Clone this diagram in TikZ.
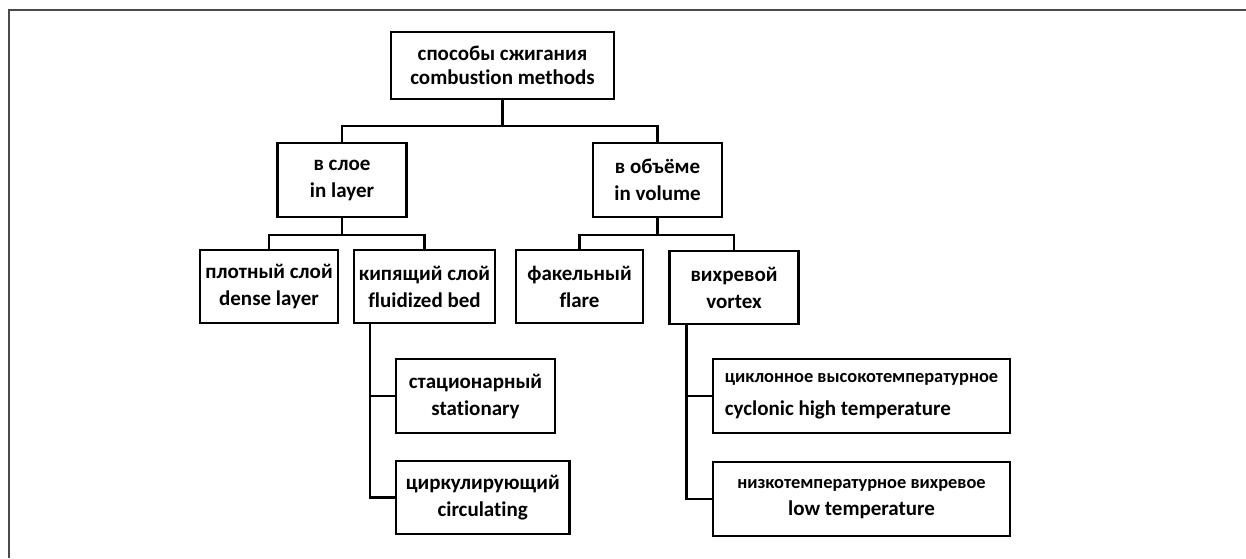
\documentclass[tikz,border=0pt]{standalone}
\usepackage{fontspec}
\setmainfont{Carlito}[Ligatures={NoCommon}]
\usetikzlibrary{positioning}
\definecolor{cFrame}{HTML}{4A4A4A}
\newcommand{\smalltxt}[1]{{\fontsize{9.2}{11}\selectfont #1}}

\begin{document}
\begin{tikzpicture}[
    x=0.5pt, y=-0.5pt,
    % ---------------------------------------------------------
    % СТИЛИ
    % ---------------------------------------------------------
    method box/.style={
        draw=black,
        line width=1.35pt,
        fill=white,
        align=center,
        inner sep=2pt,
        font=\fontsize{10.5}{13.5}\selectfont\bfseries
    },
    tree line/.style={
        draw=black,
        line width=1.15pt
    }
]
\useasboundingbox (0,0) rectangle (1246,558);

% ---------------------------------------------------------
% 0. РАМКА
% ---------------------------------------------------------
\draw[cFrame, line width=1pt] (9,558) -- (9,10) -- (1246,10);

% ---------------------------------------------------------
% 1. КООРДИНАТЫ (центры блоков)
% ---------------------------------------------------------
\coordinate (cRoot) at (502.5, 65.5);
% второй уровень
\coordinate (cLayer) at (342, 180);
\coordinate (cVolume) at (657.5, 180);
% третий уровень
\coordinate (cDense) at (269, 286.5);
\coordinate (cFluid) at (424.5, 286.5);
\coordinate (cFlare) at (579.5, 286.5);
\coordinate (cVortex) at (734, 287.5);
% четвёртый уровень
\coordinate (cStat) at (475.5, 396);
\coordinate (cCirc) at (482.7, 497.5);
\coordinate (cCyclo) at (861.5, 396);
\coordinate (cLowT) at (861.5, 499);
% уровни горизонтальных шин
\coordinate (bar0) at (0, 126);
\coordinate (bar1) at (0, 235);

% ---------------------------------------------------------
% 2. БЛОКИ
% ---------------------------------------------------------
\node[method box, minimum width=111.5pt, minimum height=33.5pt,
      font=\fontsize{10.5}{12}\selectfont\bfseries] (root) at (cRoot)
      {способы сжигания\\combustion methods};

\node[method box, minimum width=64.25pt, minimum height=37pt] (layer) at (cLayer) {в слое\\in layer};
\node[method box, minimum width=64.5pt, minimum height=37pt] (volume) at (cVolume) {в объёме\\in volume};

\node[method box, minimum width=69pt, minimum height=36.5pt] (dense) at (cDense) {плотный слой\\dense layer};
\node[method box, minimum width=70.5pt, minimum height=36.5pt] (fluid) at (cFluid) {кипящий слой\\fluidized bed};
\node[method box, minimum width=63.5pt, minimum height=36.5pt] (flare) at (cFlare) {факельный\\flare};
\node[method box, minimum width=64.25pt, minimum height=36.5pt] (vortex) at (cVortex) {вихревой\\vortex};

\node[method box, minimum width=79.5pt, minimum height=37pt] (stat) at (cStat) {стационарный\\stationary};
\node[method box, minimum width=86.75pt, minimum height=36.5pt] (circ) at (cCirc) {циркулирующий\\circulating};

\node[method box, align=left, minimum width=148.5pt, minimum height=37pt] (cyclo) at (cCyclo)
      {\smalltxt{циклонное высокотемпературное}\\[3pt]cyclonic high temperature};
\node[method box, minimum width=148.5pt, minimum height=37pt] (lowT) at (cLowT)
      {\smalltxt{низкотемпературное вихревое}\\low temperature};

% ---------------------------------------------------------
% 3. СОЕДИНИТЕЛЬНЫЕ ЛИНИИ
% ---------------------------------------------------------
\draw[tree line] (root.south) -- (root.south |- bar0) -| (layer.north);
\draw[tree line] (root.south |- bar0) -| (volume.north);

\draw[tree line] (layer.south) -- (layer.south |- bar1) -| (dense.north);
\draw[tree line] (layer.south |- bar1) -| (fluid.north);
\draw[tree line] (volume.south) -- (volume.south |- bar1) -| (flare.north);
\draw[tree line] (volume.south |- bar1) -| (vortex.north);

% боковые отводы
\draw[tree line] ([xshift=8.5pt]fluid.south west) |- (stat.west);
\draw[tree line] ([xshift=8.5pt]fluid.south west) |- (circ.west);
\draw[tree line] ([xshift=9pt]vortex.south west) |- (cyclo.west);
\draw[tree line] ([xshift=9pt]vortex.south west) |- (lowT.west);

\end{tikzpicture}
\end{document}
